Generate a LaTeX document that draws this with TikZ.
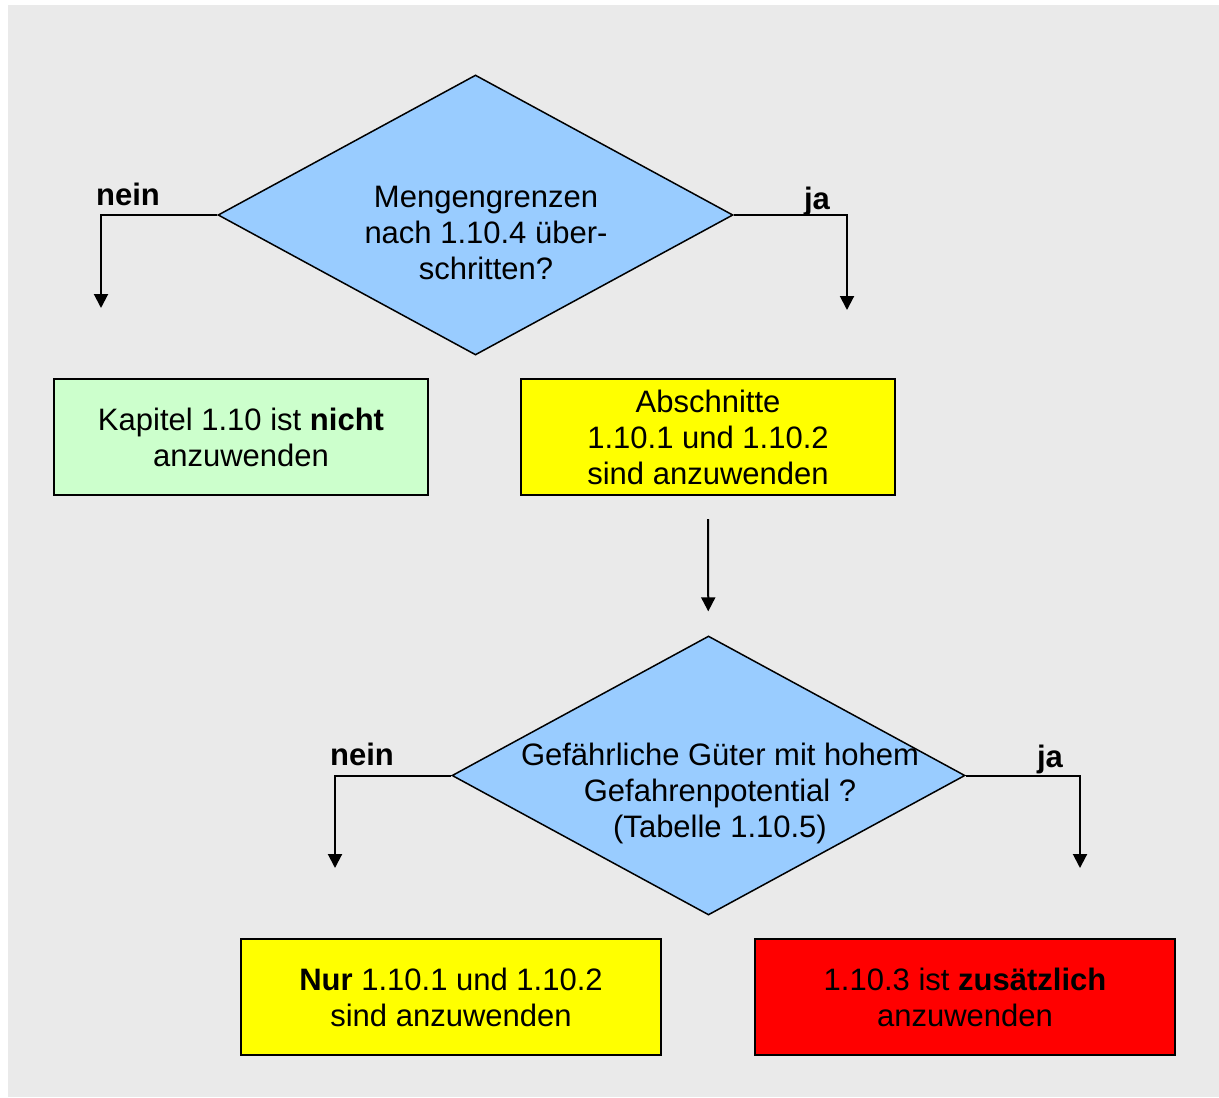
\documentclass[tikz,border=0pt]{standalone}
\usepackage{fontspec}
\setmainfont{Liberation Sans}
\usetikzlibrary{shapes.geometric}
\usetikzlibrary{arrows.meta}
\definecolor{bggray}{HTML}{EAEAEA}
\definecolor{qblue}{HTML}{99CCFF}
\definecolor{nogreen}{HTML}{CCFFCC}
\definecolor{doyellow}{HTML}{FFFF00}
\definecolor{extrared}{HTML}{FF0000}
\newcommand{\txt}{\fontsize{15.5pt}{18pt}\selectfont}

\begin{document}
\begin{tikzpicture}[x=0.5pt, y=-0.5pt, >={Triangle[length=7pt,width=7pt]}, line width=1pt,
    question/.style={draw, shape=diamond, fill=qblue, line width=0.75pt, inner sep=0pt},
    result/.style={draw, rectangle, line width=1pt, minimum height=58pt, align=center, font=\txt},
    answer/.style={anchor=base, font=\txt\bfseries}]
      \useasboundingbox (0,0) rectangle (1219,1097);
      \fill [bggray] (8,5) rectangle (1219,1097);

      % first question
      \node at (475.5,215) [question, minimum width=257.5pt, minimum height=140pt, name=menge] {};
      \node at (486,233) [align=center, font=\txt, name=mengetxt]
      {Mengengrenzen\\nach 1.10.4 über-\\schritten?};

      \node at (241,437) [result, fill=nogreen, minimum width=187pt, name=nicht]
      {Kapitel 1.10 ist \textbf{nicht}\\anzuwenden};
      \node at (708,437) [result, fill=doyellow, minimum width=187pt, name=abschn]
      {Abschnitte\\ 1.10.1 und 1.10.2\\sind anzuwenden};

      \coordinate (neinend) at (101,308);
      \coordinate (jaend) at (847,310);
      \draw [->] (menge.west) -| (neinend);
      \draw [->] (menge.east) -| (jaend);
      \node at (128,205) [answer, name=nein] {nein};
      \node at (817,209) [answer, name=ja] {ja};

      % second question
      \node at (708.5,775.5) [question, minimum width=256.5pt, minimum height=139.5pt, name=gefahr] {};
      \node at (720,793) [align=center, font=\txt, name=gefahrtxt]
      {Gefährliche Güter mit hohem\\Gefahrenpotential ?\\(Tabelle 1.10.5)};

      \draw [->, shorten <=11.5pt, shorten >=12pt] (abschn) -- (gefahr);

      \node at (451,997) [result, fill=doyellow, minimum width=210pt, name=nur]
      {\textbf{Nur} 1.10.1 und 1.10.2\\sind anzuwenden};
      \node at (965,997) [result, fill=extrared, minimum width=210pt, name=zusatz]
      {1.10.3 ist \textbf{zusätzlich}\\anzuwenden};

      \coordinate (neinend2) at (335,868);
      \coordinate (jaend2) at (1080,868);
      \draw [->] (gefahr.west) -| (neinend2);
      \draw [->] (gefahr.east) -| (jaend2);
      \node at (362,765) [answer, name=nein2] {nein};
      \node at (1050,767) [answer, name=ja2] {ja};

    \end{tikzpicture}
\end{document}
